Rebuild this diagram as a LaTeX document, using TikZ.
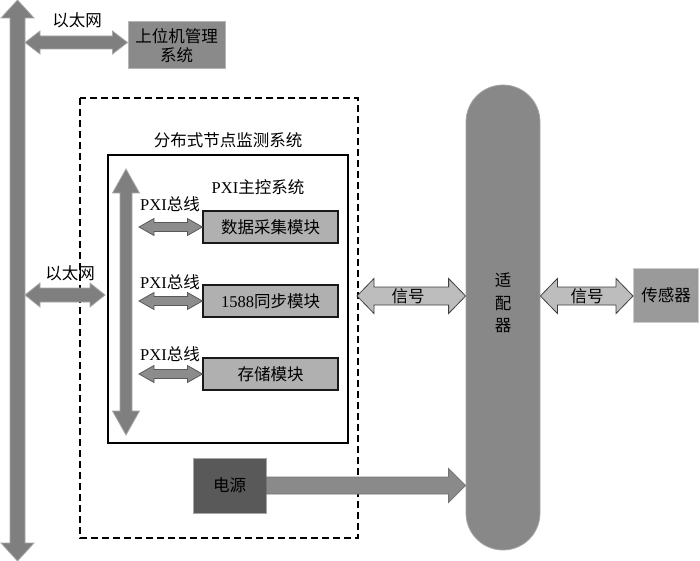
\documentclass[tikz,border=0pt]{standalone}
\usepackage{fontspec}
\setmainfont{Liberation Serif}
\newfontfamily\cjk{Noto Sans CJK SC}
\usetikzlibrary{calc}
\definecolor{busfill}{HTML}{7F7F7F}
\definecolor{busdraw}{HTML}{A8A8A8}
\definecolor{hostfill}{HTML}{8A8A8A}
\definecolor{hostdraw}{HTML}{B5B5B5}
\definecolor{modfill}{HTML}{B0B0B0}
\definecolor{sigfill}{HTML}{BDBDBD}
\definecolor{pxifill}{HTML}{8C8C8C}
\definecolor{adfill}{HTML}{888888}
\definecolor{senfill}{HTML}{9A9A9A}
\definecolor{pwfill}{HTML}{595959}
% horizontal double block arrow between two named coordinates
\newcommand\hdarrow[6]{%
\draw[#6] let \p1=(#1), \p2=(#2) in (\x1,\y1) -- (\x1+#5,\y1+#4) -- (\x1+#5,\y1+#3) -- (\x2-#5,\y1+#3) -- (\x2-#5,\y1+#4) -- (\x2,\y1) -- (\x2-#5,\y1-#4) -- (\x2-#5,\y1-#3) -- (\x1+#5,\y1-#3) -- (\x1+#5,\y1-#4) -- cycle;}
% vertical double block arrow (top to bottom)
\newcommand\vdarrow[6]{%
\draw[#6] let \p1=(#1), \p2=(#2) in (\x1,\y1) -- (\x1+#4,\y1-#5) -- (\x1+#3,\y1-#5) -- (\x1+#3,\y2+#5) -- (\x1+#4,\y2+#5) -- (\x1,\y2) -- (\x1-#4,\y2+#5) -- (\x1-#3,\y2+#5) -- (\x1-#3,\y1-#5) -- (\x1-#4,\y1-#5) -- cycle;}
\begin{document}
\begin{tikzpicture}[x=1pt,y=-1pt,
  every node/.style={font=\fontsize{16.5}{19}\selectfont\cjk, inner sep=0pt},
  lbl/.style={},
  busarrow/.style={fill=busfill, draw=busdraw, line width=0.8pt},
  pxiarrow/.style={fill=pxifill, draw=black!65, line width=0.8pt},
  sigarrow/.style={fill=sigfill, draw=black!75, line width=0.8pt},
  pwarrow/.style={fill=hostfill, draw=black!55, line width=0.8pt},
  modbox/.style={draw=black!90, fill=modfill, line width=1.2pt, minimum width=135pt, minimum height=32pt},
]
\useasboundingbox (0,0) rectangle (700,561);

% left ethernet bus
\coordinate (bustop) at (17.5,0);
\coordinate (busbot) at (17.5,561);
\vdarrow{bustop}{busbot}{7.5pt}{16.5pt}{18pt}{busarrow}

% host system
\node[fill=hostfill, draw=hostdraw, line width=1pt, minimum width=97pt, minimum height=47pt, align=center] (host) at (176.5,45.5) {上位机管理\\系统};
\coordinate (e1) at (25,42.5);
\coordinate (e1b) at (host.west |- e1);
\hdarrow{e1}{e1b}{6.5pt}{11.5pt}{15pt}{busarrow}
\node[lbl] (eth1) at (77,20) {以太网};

% dashed outer box
\draw[line width=1.3pt, dash pattern=on 7pt off 4pt] (80,98) rectangle (358,538);
\node[lbl] (dtitle) at (228,140) {分布式节点监测系统};

% inner box
\node[draw=black, line width=1.2pt, fill=none, minimum width=240pt, minimum height=288pt] (inner) at (228,299) {};
\node[lbl] (pxititle) at (258,187) {{\rmfamily PXI}主控系统};

% inner PXI bus
\coordinate (ptop) at (126,169);
\coordinate (pbot) at (126,435);
\vdarrow{ptop}{pbot}{6pt}{13.5pt}{24pt}{busarrow}

% modules
\node[modbox] (m1) at (270.5,227) {数据采集模块};
\node[modbox] (m2) at (270.5,301) {{\rmfamily 1588}同步模块};
\node[modbox] (m3) at (270.5,374) {存储模块};

\coordinate (a1) at (139,227);
\coordinate (a2) at (139,301);
\coordinate (a3) at (139,374);
\hdarrow{a1}{m1.west}{4.5pt}{8.5pt}{15pt}{pxiarrow}
\hdarrow{a2}{m2.west}{4.5pt}{8.5pt}{15pt}{pxiarrow}
\hdarrow{a3}{m3.west}{4.5pt}{8.5pt}{15pt}{pxiarrow}
\node[lbl] (b1) at (170,204) {{\rmfamily PXI}总线};
\node[lbl] (b2) at (170,282) {{\rmfamily PXI}总线};
\node[lbl] (b3) at (170,354) {{\rmfamily PXI}总线};

% middle ethernet arrow
\coordinate (e2a) at (25,295);
\coordinate (e2b) at (105,295);
\hdarrow{e2a}{e2b}{7pt}{12pt}{15pt}{busarrow}
\node[lbl] (eth2) at (70,273) {以太网};

% adapter
\node[fill=adfill, draw=black!35, line width=0.8pt, rounded corners=37pt, minimum width=74pt, minimum height=465pt] (adapter) at (503,317.5) {};
\node[align=center, font=\fontsize{16.5}{22.5}\selectfont\cjk] (adtext) at (503,303) {适\\配\\器};

% sensor
\node[fill=senfill, draw=black!20, line width=1pt, minimum width=65pt, minimum height=54pt] (sensor) at (666,295) {传感器};

% signal arrows
\coordinate (s1) at (357,296);
\coordinate (s1b) at (adapter.west |- s1);
\hdarrow{s1}{s1b}{9pt}{17.5pt}{17pt}{sigarrow}
\node[lbl] (sig1) at (408,296) {信号};
\coordinate (s2) at (adapter.east |- s1);
\coordinate (s2b) at (sensor.west |- s1);
\hdarrow{s2}{s2b}{9pt}{17.5pt}{17pt}{sigarrow}
\node[lbl] (sig2) at (587,296) {信号};

% power
\node[fill=pwfill, draw=black!35, line width=1pt, minimum width=73pt, minimum height=55pt] (power) at (229.5,485.5) {电源};
\coordinate (pt) at (adapter.west |- power.east);
\draw[pwarrow] let \p1=(power.east), \p2=(pt) in
  (\x1,\y1+8.5pt) -- (\x2-17pt,\y1+8.5pt) -- (\x2-17pt,\y1+17pt) -- (\x2,\y1)
  -- (\x2-17pt,\y1-17pt) -- (\x2-17pt,\y1-8.5pt) -- (\x1,\y1-8.5pt) -- cycle;
\end{tikzpicture}
\end{document}
